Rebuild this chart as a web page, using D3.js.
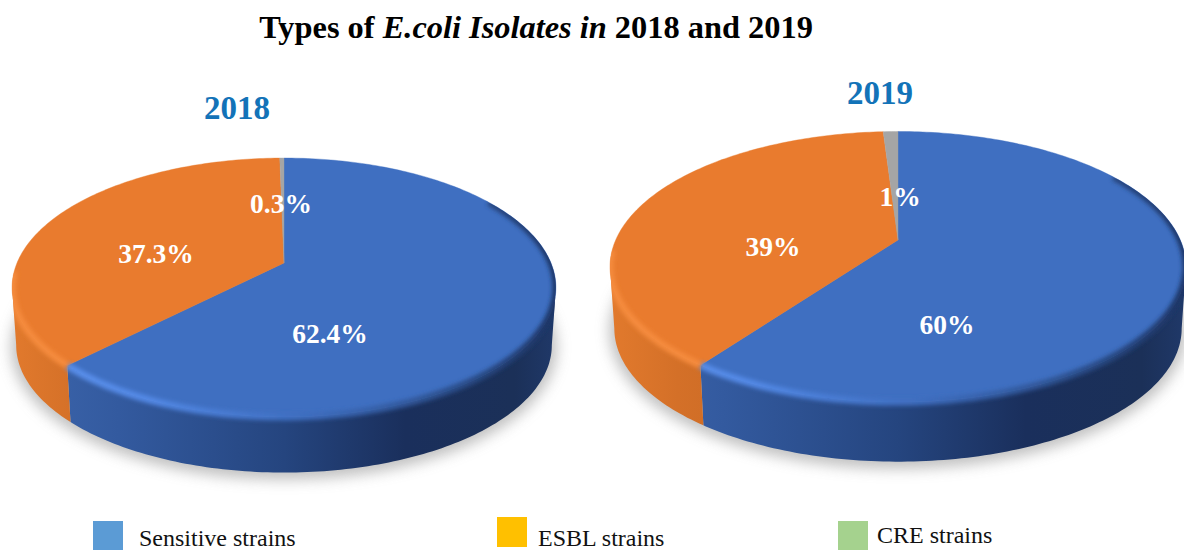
<!DOCTYPE html>
<html>
<head>
<meta charset="utf-8">
<title>Types of E.coli Isolates in 2018 and 2019</title>
<script src="https://cdn.jsdelivr.net/npm/d3@7/dist/d3.min.js"></script>
<style>
  html, body { margin: 0; padding: 0; background: #fff; overflow: hidden; }
  svg { display: block; font-family: "Liberation Serif", "Times New Roman", serif; }
</style>
</head>
<body>
<svg id="chart" width="1184" height="550"></svg>
<script>
// Isolate shares per year, in the order the slices run clockwise from 12 o'clock
const categories = ["Sensitive strains", "ESBL strains", "CRE strains"];
const years = ["2018", "2019"];
const values2018 = [62.4, 37.3, 0.3];
const values2019 = [60, 39, 1];
const labels2018 = ["62.4%", "37.3%", "0.3%"];
const labels2019 = ["60%", "39%", "1%"];
const sliceColors = ["#3f6fc1", "#e97b2e", "#a5a5a5"];
const legendColors = ["#5b9bd5", "#ffc000", "#a5d28e"];

// Geometry of each tilted disc: a, b and tilt define the perspective projection
const discs = [
  { year: years[0], values: values2018, labels: labels2018, cx: 284, cy: 263, a: 267, b: 124.8, tilt: 0.189, depth: 58,
    yearPos: [237, 119], labelPos: [[330, 343], [156, 263], [281, 213]] },
  { year: years[1], values: values2019, labels: labels2019, cx: 898, cy: 240, a: 282.3, b: 130, tilt: 0.198, depth: 62,
    yearPos: [880, 104], labelPos: [[947, 334], [773, 256], [900, 206]] }
];
const legendLayout = [
  { box: [93, 521], text: [139, 546] },
  { box: [497, 517], text: [538, 546] },
  { box: [838, 521], text: [877, 543] }
];

const svg = d3.select("#chart");
const defs = svg.append("defs");
defs.append("filter").attr("id", "shadowBlur")
  .attr("x", "-10%").attr("y", "-10%").attr("width", "120%").attr("height", "120%")
  .append("feGaussianBlur").attr("stdDeviation", 7);
defs.append("filter").attr("id", "rimBlur")
  .attr("x", "-10%").attr("y", "-10%").attr("width", "120%").attr("height", "120%")
  .append("feGaussianBlur").attr("stdDeviation", 2.2);

const pieLayout = d3.pie().sort(null).value(d => d);
const line = d3.line();
const step = Math.PI / 180;

// Sample angles from start to end, always including both ends
function angles(start, end) {
  const out = d3.range(start, end, step);
  out.push(end);
  return out;
}

discs.forEach((disc, discIndex) => {
  // Perspective projection of a point on the flat disc (r = 1 at the rim)
  const project = (theta, r = 1) => {
    const X = r * Math.sin(theta), Y = -r * Math.cos(theta);
    const w = 1 - disc.tilt * Y;
    return [disc.cx + disc.a * X / w, disc.cy + disc.b * Y / w];
  };
  // Matching point on the lower rim of the cylinder wall
  const shrink = 0.985;
  const projectLow = theta => {
    const [x, y] = project(theta);
    return [disc.cx + (x - disc.cx) * shrink, disc.cy + disc.depth + (y - disc.cy) * shrink];
  };

  const tangent = Math.acos(-disc.tilt);
  const wallStart = tangent, wallEnd = 2 * Math.PI - tangent;
  const arcs = pieLayout(disc.values);
  const g = svg.append("g");

  const xLeft = disc.cx - disc.a - 8, xRight = disc.cx + disc.a + 8;
  const hGradient = (id, stops) => {
    const grad = defs.append("linearGradient").attr("id", id)
      .attr("gradientUnits", "userSpaceOnUse")
      .attr("x1", xLeft).attr("x2", xRight).attr("y1", 0).attr("y2", 0);
    stops.forEach(([o, c]) => grad.append("stop").attr("offset", o).attr("stop-color", c));
  };
  hGradient(`wall0-${discIndex}`, [[0, "#3d66ad"], [0.2, "#335a9f"], [0.5, "#25457f"], [0.72, "#1a2f5c"], [0.92, "#1b3058"], [1, "#20396a"]]);
  hGradient(`wall1-${discIndex}`, [[0, "#e27a2d"], [0.12, "#d47028"], [0.3, "#c76824"]]);
  hGradient(`wall2-${discIndex}`, [[0, "#8c8c8c"], [1, "#8c8c8c"]]);
  hGradient(`rim0-${discIndex}`, [[0, "#5f93ee"], [0.25, "#5389e6"], [0.55, "#3d6cbd"], [0.8, "#2c4f8c"], [1, "#1d3566"]]);
  hGradient(`rim1-${discIndex}`, [[0, "#f58b3c"], [0.3, "#f58b3c"]]);
  hGradient(`rim2-${discIndex}`, [[0, "#a5a5a5"], [1, "#a5a5a5"]]);

  const fullTop = angles(0, 2 * Math.PI).map(t => project(t));
  const wallOutline = angles(wallStart, wallEnd).map(t => project(t))
    .concat(angles(wallStart, wallEnd).reverse().map(projectLow));

  // Soft ground shadow beneath the disc
  g.append("path")
    .attr("d", line(angles(0, 2 * Math.PI).map(projectLow)) + "Z")
    .attr("fill", "#a6a6a6").attr("stroke", "#a6a6a6").attr("stroke-width", 10)
    .attr("opacity", 0.7)
    .attr("transform", "translate(0,2)")
    .attr("filter", "url(#shadowBlur)");

  // Visible cylinder wall, one section per slice
  arcs.forEach((arc, i) => {
    const s = Math.max(arc.startAngle, wallStart), e = Math.min(arc.endAngle, wallEnd);
    if (e <= s) return;
    const pts = angles(s, e);
    g.append("path")
      .attr("d", line(pts.map(t => project(t)).concat(pts.slice().reverse().map(projectLow))) + "Z")
      .attr("fill", `url(#wall${i}-${discIndex})`);
  });

  // Top face slices
  arcs.forEach((arc, i) => {
    const pts = angles(arc.startAngle, arc.endAngle).map(t => project(t));
    g.append("path")
      .attr("d", line([project(0, 0), ...pts]) + "Z")
      .attr("fill", sliceColors[i])
      .attr("stroke", sliceColors[i]).attr("stroke-width", 0.4);
  });

  // Bevel highlight along the rim, kept inside the disc silhouette
  const clipId = `body-${discIndex}`;
  defs.append("clipPath").attr("id", clipId).selectAll("path")
    .data([line(fullTop) + "Z", line(wallOutline) + "Z"])
    .join("path").attr("d", d => d);
  const rimGroup = g.append("g").attr("clip-path", `url(#${clipId})`);
  arcs.forEach((arc, i) => {
    const s = Math.max(arc.startAngle, i === 0 ? Math.PI * 0.32 : wallStart);
    const e = Math.min(arc.endAngle, wallEnd + 0.12);
    if (e <= s) return;
    rimGroup.append("path")
      .attr("d", line(angles(s, e).map(t => project(t))))
      .attr("fill", "none")
      .attr("stroke", `url(#rim${i}-${discIndex})`)
      .attr("stroke-width", 7)
      .attr("filter", "url(#rimBlur)");
  });

  // Year heading
  g.append("text")
    .attr("x", disc.yearPos[0]).attr("y", disc.yearPos[1])
    .attr("text-anchor", "middle")
    .attr("font-size", 33).attr("font-weight", "bold")
    .attr("fill", "#1373b8")
    .text(disc.year);

  // Value labels
  g.selectAll("text.value").data(disc.labels).join("text")
    .attr("class", "value")
    .attr("x", (d, i) => disc.labelPos[i][0])
    .attr("y", (d, i) => disc.labelPos[i][1])
    .attr("text-anchor", "middle")
    .attr("font-size", 27.5).attr("font-weight", "bold")
    .attr("fill", "#fff")
    .text(d => d);
});

// Main title with the organism name set in italics
const title = svg.append("text")
  .attr("x", 536).attr("y", 38)
  .attr("text-anchor", "middle")
  .attr("font-size", 32.4).attr("font-weight", "bold")
  .attr("fill", "#000");
title.append("tspan").text("Types of ");
title.append("tspan").attr("font-style", "italic").text("E.coli Isolates in");
title.append("tspan").text(" 2018 and 2019");

// Legend
const legend = svg.selectAll("g.legend").data(categories).join("g").attr("class", "legend");
legend.append("rect")
  .attr("x", (d, i) => legendLayout[i].box[0])
  .attr("y", (d, i) => legendLayout[i].box[1])
  .attr("width", 30).attr("height", 30)
  .attr("fill", (d, i) => legendColors[i]);
legend.append("text")
  .attr("x", (d, i) => legendLayout[i].text[0])
  .attr("y", (d, i) => legendLayout[i].text[1])
  .attr("font-size", 24).attr("fill", "#111")
  .text(d => d);
</script>
</body>
</html>
